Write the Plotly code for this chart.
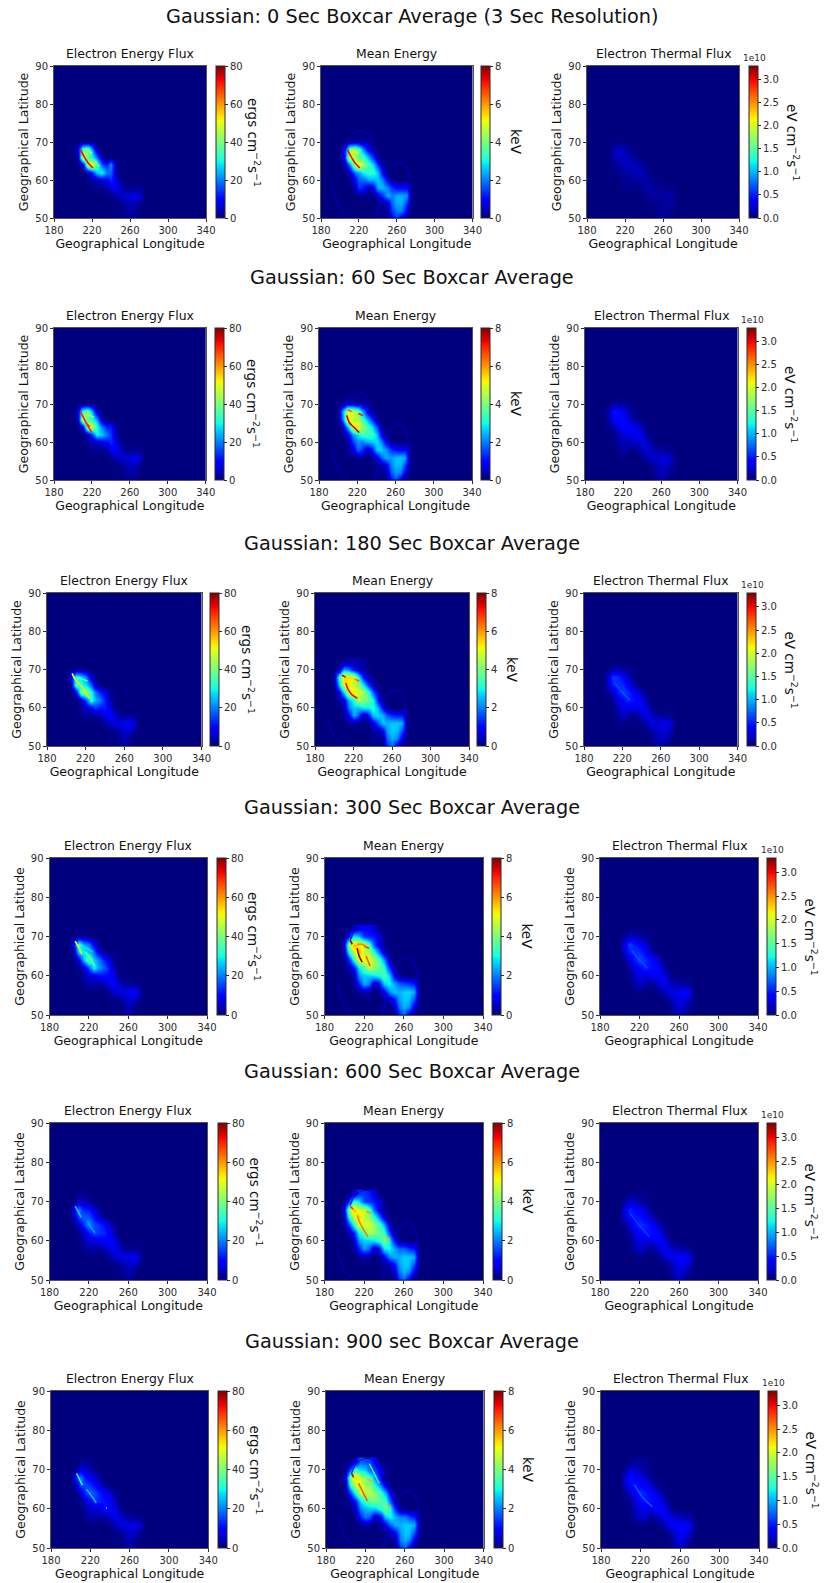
import numpy as np
import plotly.graph_objects as go
from plotly.colors import sample_colorscale

W, H = 825, 1583
LON = [200,205,210,215,220,225,230,235,240,245,250,255,260,265,270,275]
LAT = [72,70,68,66,64,62,60,58,56,54,52,50]
XT = [180,220,260,300,340]
YT = [50,60,70,80,90]
ROW_TITLES = ["Gaussian: 0 Sec Boxcar Average (3 Sec Resolution)","Gaussian: 60 Sec Boxcar Average",
              "Gaussian: 180 Sec Boxcar Average","Gaussian: 300 Sec Boxcar Average",
              "Gaussian: 600 Sec Boxcar Average","Gaussian: 900 sec Boxcar Average"]
PANEL_TITLES = ["Electron Energy Flux","Mean Energy","Electron Thermal Flux"]

# Electron energy flux, ergs cm-2 s-1
EEF_0 = [[0]*16,[0]*16,
[0,6,38,42,24,3,0,0,0,0,0,0,0,0,0,0],
[0,1,50,36,32,20,2,0,0,0,0,0,0,0,0,0],
[0,0,4,48,55,36,18,12,22,2,0,0,0,0,0,0],
[0,0,0,2,10,26,30,20,18,3,0,0,0,0,0,0],
[0,0,0,1,3,3,8,8,14,6,1,0,0,0,0,0],
[0,0,0,0,1,1,1,2,6,9,4,1,1,1,1,0],
[0,0,0,0,0,0,0,0,1,3,5,6,7,8,6,0],
[0,0,0,0,0,0,0,0,0,0,1,3,4,4,2,0],
[0,0,0,0,0,0,0,0,0,1,0,2,3,2,0,0],
[0,0,0,0,0,0,0,0,0,0,0,1,2,1,0,0]]
EEF_60 = [[0]*16,[0]*16,
[0,5,36,40,26,5,0,0,0,0,0,0,0,0,0,0],
[0,2,50,36,32,24,3,0,0,0,0,0,0,0,0,0],
[0,0,6,48,50,32,20,12,12,2,0,0,0,0,0,0],
[0,0,0,3,12,30,26,20,14,4,0,0,0,0,0,0],
[0,0,0,2,4,4,8,10,14,7,1,0,0,0,0,0],
[0,0,0,0,1,2,1,2,7,10,5,1,1,1,1,0],
[0,0,0,0,0,0,0,0,1,4,6,6,7,9,6,0],
[0,0,0,0,0,0,0,0,0,0,1,3,5,4,2,0],
[0,0,0,0,0,0,0,0,0,1,0,2,3,2,0,0],
[0,0,0,0,0,0,0,0,0,0,0,1,2,1,0,0]]
EEF_180 = [[0]*16,[0,0,1,1,0,0,0,0,0,0,0,0,0,0,0,0],
[0,8,32,28,20,6,1,0,0,0,0,0,0,0,0,0],
[0,2,36,32,28,18,5,0,0,0,0,0,0,0,0,0],
[0,0,6,40,44,32,20,12,8,1,0,0,0,0,0,0],
[0,0,0,4,16,34,24,20,12,3,0,0,0,0,0,0],
[0,0,0,2,5,6,14,10,12,7,1,0,0,0,0,0],
[0,0,0,1,2,2,2,3,8,10,5,2,1,1,1,0],
[0,0,0,0,0,0,0,0,2,5,7,7,8,9,7,0],
[0,0,0,0,0,0,0,0,0,0,1,3,5,5,2,0],
[0,0,0,0,0,0,0,0,0,1,0,2,4,2,0,0],
[0,0,0,0,0,0,0,0,0,0,0,1,3,1,0,0]]
EEF_300 = [[0]*16,[0,0,3,2,1,0,0,0,0,0,0,0,0,0,0,0],
[0,10,36,24,20,9,2,0,0,0,0,0,0,0,0,0],
[0,3,28,30,25,18,6,1,0,0,0,0,0,0,0,0],
[0,0,7,26,38,26,20,13,7,1,0,0,0,0,0,0],
[0,0,1,5,16,30,22,18,12,4,0,0,0,0,0,0],
[0,0,0,3,6,6,10,10,10,7,1,0,0,0,0,0],
[0,0,0,1,3,3,2,3,7,9,6,2,2,1,1,0],
[0,0,0,0,0,0,0,0,2,5,7,7,8,10,7,0],
[0,0,0,0,0,0,0,0,0,0,1,3,6,5,2,0],
[0,0,0,0,0,0,0,0,0,1,0,2,4,2,0,0],
[0,0,0,0,0,0,0,0,0,0,0,1,3,1,0,0]]
EEF_600 = [[0,0,1,1,0,0,0,0,0,0,0,0,0,0,0,0],[0,0,5,4,2,0,0,0,0,0,0,0,0,0,0,0],
[0,8,20,12,12,7,2,0,0,0,0,0,0,0,0,0],
[0,3,16,18,16,11,5,1,0,0,0,0,0,0,0,0],
[0,0,6,14,22,16,14,11,6,1,0,0,0,0,0,0],
[0,0,1,5,11,16,14,13,9,4,0,0,0,0,0,0],
[0,0,0,3,6,6,7,9,10,8,2,0,0,0,0,0],
[0,0,0,1,3,3,2,3,6,8,6,2,2,1,1,0],
[0,0,0,0,0,0,0,0,2,5,7,7,8,9,7,0],
[0,0,0,0,0,0,0,0,0,0,1,3,5,5,2,0],
[0,0,0,0,0,0,0,0,0,1,0,2,4,2,0,0],
[0,0,0,0,0,0,0,0,0,0,0,1,3,1,0,0]]
EEF_900 = [[0,0,1,2,1,0,0,0,0,0,0,0,0,0,0,0],[0,1,7,6,3,1,0,0,0,0,0,0,0,0,0,0],
[0,8,20,11,9,6,2,0,0,0,0,0,0,0,0,0],
[0,3,16,16,13,9,5,1,0,0,0,0,0,0,0,0],
[0,0,5,14,18,16,11,9,5,1,0,0,0,0,0,0],
[0,0,1,5,9,14,12,11,8,4,0,0,0,0,0,0],
[0,0,0,3,5,6,6,12,8,7,2,0,0,0,0,0],
[0,0,0,1,3,3,2,3,5,8,6,3,2,1,1,0],
[0,0,0,0,0,0,0,0,1,4,7,7,7,8,6,0],
[0,0,0,0,0,0,0,0,0,0,1,4,5,5,2,0],
[0,0,0,0,0,0,0,0,0,1,0,3,4,2,0,0],
[0,0,0,0,0,0,0,0,0,0,0,2,3,1,0,0]]

# Mean energy, in 0.1 keV
ME_0 = [[0]*16,[0,0,1,3,3,3,2,0,0,0,0,0,0,0,0,0],
[0,10,42,44,36,20,8,1,0,0,0,0,0,0,0,0],
[0,12,52,44,36,34,24,12,2,0,0,0,0,0,0,0],
[0,3,20,45,55,42,34,26,14,2,0,0,0,0,0,0],
[0,0,5,18,22,30,32,32,26,8,0,0,0,0,0,0],
[0,0,0,8,18,18,24,24,26,20,7,0,0,0,0,0],
[0,0,0,3,14,11,3,9,24,25,20,14,9,9,10,1],
[0,0,0,0,1,0,0,1,6,14,24,20,24,24,22,2],
[0,0,0,0,0,0,0,0,1,2,6,18,24,24,15,1],
[0,0,0,0,0,0,0,0,1,1,2,14,20,20,8,0],
[0,0,0,0,0,0,0,0,0,0,1,9,15,6,0,0]]
ME_60 = [[0]*16,[0,2,6,4,3,3,2,0,0,0,0,0,0,0,0,0],
[0,24,50,48,42,26,10,1,0,0,0,0,0,0,0,0],
[0,20,54,48,44,36,26,14,3,0,0,0,0,0,0,0],
[0,4,26,50,55,44,36,28,16,3,0,0,0,0,0,0],
[0,1,6,22,28,34,34,34,26,10,1,0,0,0,0,0],
[0,0,2,14,22,20,24,26,28,22,8,1,0,0,0,0],
[0,0,1,6,18,14,4,10,26,27,22,14,11,9,10,1],
[0,0,0,0,1,0,0,1,6,16,24,22,25,26,24,2],
[0,0,0,0,0,0,0,0,1,2,7,20,25,24,16,1],
[0,0,0,0,0,0,0,0,1,1,2,16,22,20,8,0],
[0,0,0,0,0,0,0,0,0,0,1,10,16,6,0,0]]
ME_180 = [[0,0,1,3,3,3,2,0,0,0,0,0,0,0,0,0],[0,4,22,18,8,4,2,1,0,0,0,0,0,0,0,0],
[2,32,56,52,48,32,12,2,0,0,0,0,0,0,0,0],
[0,24,50,54,46,42,30,16,4,0,0,0,0,0,0,0],
[0,8,28,50,54,50,44,34,18,4,0,0,0,0,0,0],
[0,2,8,24,32,44,42,38,30,12,1,0,0,0,0,0],
[0,0,3,20,26,24,28,28,32,24,9,1,0,0,0,0],
[0,0,1,10,24,18,4,9,26,28,24,16,13,11,11,1],
[0,0,0,1,2,1,0,1,7,17,26,24,26,26,24,2],
[0,0,0,0,0,0,0,0,1,2,8,22,26,25,16,1],
[0,0,0,0,0,0,0,0,1,1,2,18,24,21,8,0],
[0,0,0,0,0,0,0,0,0,0,1,12,18,7,0,0]]
ME_300 = [[0,0,4,8,10,10,6,0,0,0,0,0,0,0,0,0],[0,12,30,26,14,12,12,8,1,0,0,0,0,0,0,0],
[4,44,58,52,50,36,16,8,1,0,0,0,0,0,0,0],
[2,32,48,58,46,44,32,18,5,0,0,0,0,0,0,0],
[0,12,32,50,52,50,44,36,22,5,0,0,0,0,0,0],
[0,3,10,28,36,46,42,38,32,14,2,0,0,0,0,0],
[0,0,4,22,26,26,28,30,36,28,10,1,0,0,0,0],
[0,0,1,12,24,20,3,8,26,30,24,18,16,14,12,1],
[0,0,0,1,3,1,0,1,8,20,26,24,26,27,24,2],
[0,0,0,0,0,0,0,0,1,3,9,22,26,25,16,1],
[0,0,0,0,0,0,0,0,1,1,3,18,24,21,8,0],
[0,0,0,0,0,0,0,0,0,0,1,12,18,7,0,0]]
ME_600 = [[0,0,5,14,14,12,7,0,0,0,0,0,0,0,0,0],[0,14,34,28,16,14,12,8,1,0,0,0,0,0,0,0],
[6,42,58,48,50,36,18,8,1,0,0,0,0,0,0,0],
[2,32,48,56,46,42,32,20,6,0,0,0,0,0,0,0],
[0,14,32,50,48,50,42,36,24,6,0,0,0,0,0,0],
[0,3,12,30,36,44,42,38,34,16,2,0,0,0,0,0],
[0,0,5,22,26,26,28,32,40,30,12,2,0,0,0,0],
[0,0,1,12,22,18,3,8,28,30,24,18,18,14,12,1],
[0,0,0,1,3,1,0,2,8,20,24,24,26,26,24,2],
[0,0,0,0,0,0,0,0,1,3,9,22,26,25,16,1],
[0,0,0,0,0,0,0,0,1,1,3,19,24,21,8,0],
[0,0,0,0,0,0,0,0,0,0,1,13,18,7,0,0]]
ME_900 = [[0,0,6,18,16,14,9,0,0,0,0,0,0,0,0,0],[0,16,34,28,26,16,14,9,1,0,0,0,0,0,0,0],
[6,42,56,46,40,34,20,9,1,0,0,0,0,0,0,0],
[2,34,46,52,44,40,30,20,6,0,0,0,0,0,0,0],
[0,14,32,46,46,46,40,34,24,7,0,0,0,0,0,0],
[0,3,12,28,34,38,40,36,34,16,3,0,0,0,0,0],
[0,0,5,20,24,26,26,32,40,30,12,2,0,0,0,0],
[0,0,1,12,20,16,3,8,26,30,24,20,20,15,12,1],
[0,0,0,1,3,1,0,2,7,18,24,24,26,26,24,2],
[0,0,0,0,0,0,0,0,1,3,9,22,26,25,16,1],
[0,0,0,0,0,0,0,0,1,1,3,20,24,21,8,0],
[0,0,0,0,0,0,0,0,0,0,1,14,18,7,0,0]]

# Electron thermal flux, in 1e8 eV cm-2 s-1
TF_0 = [[0]*16,[0,0,2,3,1,0,0,0,0,0,0,0,0,0,0,0],
[0,5,20,22,16,5,1,0,0,0,0,0,0,0,0,0],
[0,4,16,20,18,14,6,1,0,0,0,0,0,0,0,0],
[0,1,6,12,18,18,18,14,6,1,0,0,0,0,0,0],
[0,0,2,6,10,14,14,16,14,5,0,0,0,0,0,0],
[0,0,0,4,7,6,10,10,14,10,3,0,0,0,0,0],
[0,0,0,2,5,4,1,3,10,12,8,5,4,3,3,0],
[0,0,0,0,0,0,0,0,3,6,10,9,10,12,10,1],
[0,0,0,0,0,0,0,0,0,1,3,7,9,9,6,0],
[0,0,0,0,0,0,0,0,0,0,1,5,8,7,2,0],
[0,0,0,0,0,0,0,0,0,0,0,3,6,2,0,0]]
TF_60 = [[0]*16,[0,1,8,10,8,6,3,0,0,0,0,0,0,0,0,0],
[0,14,48,42,34,14,4,0,0,0,0,0,0,0,0,0],
[0,12,38,44,38,30,14,3,0,0,0,0,0,0,0,0],
[0,3,14,30,38,36,34,26,12,2,0,0,0,0,0,0],
[0,1,4,14,22,30,30,34,26,8,0,0,0,0,0,0],
[0,0,1,10,18,14,22,22,30,20,5,0,0,0,0,0],
[0,0,0,5,12,8,2,6,20,26,18,10,8,6,5,0],
[0,0,0,0,1,0,0,0,4,12,24,22,24,28,22,1],
[0,0,0,0,0,0,0,0,0,1,6,16,22,22,12,0],
[0,0,0,0,0,0,0,0,0,0,2,12,18,14,4,0],
[0,0,0,0,0,0,0,0,0,0,0,7,14,4,0,0]]
TF_180 = [[0]*16,[0,3,12,14,8,6,3,0,0,0,0,0,0,0,0,0],
[0,24,62,54,42,24,6,0,0,0,0,0,0,0,0,0],
[0,18,50,56,54,40,20,4,0,0,0,0,0,0,0,0],
[0,5,22,48,64,56,44,32,14,2,0,0,0,0,0,0],
[0,1,6,26,36,54,46,42,30,10,0,0,0,0,0,0],
[0,0,2,18,28,24,32,28,34,26,6,0,0,0,0,0],
[0,0,1,10,22,14,3,8,26,32,22,12,8,6,5,0],
[0,0,0,1,1,0,0,0,5,14,30,26,28,34,26,1],
[0,0,0,0,0,0,0,0,0,1,7,18,26,24,14,0],
[0,0,0,0,0,0,0,0,0,0,2,14,20,16,5,0],
[0,0,0,0,0,0,0,0,0,0,0,8,16,5,0,0]]
TF_300 = [[0,0,1,2,2,2,1,0,0,0,0,0,0,0,0,0],[0,6,24,18,12,6,3,0,0,0,0,0,0,0,0,0],
[0,30,64,50,44,26,8,1,0,0,0,0,0,0,0,0],
[0,22,50,56,54,42,24,6,0,0,0,0,0,0,0,0],
[0,6,24,48,66,56,46,36,16,3,0,0,0,0,0,0],
[0,1,8,28,38,54,46,44,34,12,1,0,0,0,0,0],
[0,0,3,20,28,24,30,32,36,28,8,1,0,0,0,0],
[0,0,1,12,22,16,4,10,26,34,24,14,12,8,6,0],
[0,0,0,1,2,1,0,0,6,16,30,30,32,38,30,1],
[0,0,0,0,0,0,0,0,0,1,8,22,30,28,16,0],
[0,0,0,0,0,0,0,0,0,0,2,16,24,18,6,0],
[0,0,0,0,0,0,0,0,0,0,0,10,18,5,0,0]]
TF_600 = [[0,0,2,4,4,3,1,0,0,0,0,0,0,0,0,0],[0,8,24,20,12,6,3,0,0,0,0,0,0,0,0,0],
[0,26,54,42,36,24,8,1,0,0,0,0,0,0,0,0],
[0,20,42,50,46,36,22,6,1,0,0,0,0,0,0,0],
[0,6,22,42,56,52,44,32,14,3,0,0,0,0,0,0],
[0,1,8,26,36,48,46,44,34,12,1,0,0,0,0,0],
[0,0,3,20,28,24,30,32,36,28,9,1,0,0,0,0],
[0,0,1,12,22,16,4,10,26,34,26,16,14,10,6,0],
[0,0,0,1,2,1,0,0,6,18,34,34,36,40,32,1],
[0,0,0,0,0,0,0,0,0,1,8,24,32,30,16,0],
[0,0,0,0,0,0,0,0,0,0,2,18,26,20,6,0],
[0,0,0,0,0,0,0,0,0,0,0,12,20,6,0,0]]
TF_900 = [[0,0,3,8,8,5,2,0,0,0,0,0,0,0,0,0],[0,10,28,24,16,8,4,0,0,0,0,0,0,0,0,0],
[0,28,46,36,30,22,8,1,0,0,0,0,0,0,0,0],
[0,22,42,50,38,34,22,7,1,0,0,0,0,0,0,0],
[0,8,22,38,56,48,42,30,14,3,0,0,0,0,0,0],
[0,1,8,24,38,50,44,42,32,12,2,0,0,0,0,0],
[0,0,3,20,30,28,30,36,38,30,10,2,0,0,0,0],
[0,0,1,14,26,20,5,12,26,36,30,18,18,12,8,0],
[0,0,0,1,2,1,0,0,6,18,36,38,38,42,34,1],
[0,0,0,0,0,0,0,0,0,1,8,26,36,30,16,0],
[0,0,0,0,0,0,0,0,0,0,2,20,30,20,6,0],
[0,0,0,0,0,0,0,0,0,0,0,14,24,6,0,0]]

# narrow bright streaks: (lons, lats, value in the same unit as the panel table)
STREAK_EEF_0 = [([208,212,216,221],[68,66,64.5,63.2],72),([212,216,220],[68,67.7,67],42),([223,227],[65,63.5],38)]
STREAK_EEF_60 = [([208,211,215,220],[68,66.5,64.5,62.5],70),([214,218,222],[67.5,67,66.5],45),([214,218],[65,64],68)]
STREAK_EEF_180 = [([206,209,214],[69,67.5,66],50),([215,220,224],[66,64,62.5],50),([210,216,222],[68,67.5,67],35)]
STREAK_EEF_300 = [([206,209,213],[68.8,67.5,65.5],50),([217,222,226],[66,64,62.5],38),([212,218,224],[67.5,67,66],28)]
STREAK_EEF_600 = [([206,209,212],[68.8,67.5,66],26),([218,222,226],[65,63.5,62],22)]
STREAK_EEF_900 = [([206,209,212],[69,67.5,66],30),([216,222,226],[65,63,61.5],25),([236,237],[60.2,60.2],35)]
STREAK_ME_0 = [([208,212,216,221],[68,66,64.5,63.2],72),([212,216,220],[68,67.5,67],52)]
STREAK_ME_60 = [([209,212,216,222],[67,65,64,62.5],75),([210,214],[68.5,68],65),([221,226],[67.5,67],70)]
STREAK_ME_180 = [([208,212],[68.5,68],75),([212,214,218,224],[66.5,65,63.5,62.5],72),([220,226],[67.5,67],65),([214,220,226],[68,67.5,66],55)]
STREAK_ME_300 = [([206,208],[69,68],78),([213,215,218],[67,65,63.5],78),([220,225],[67.5,67],68),([222,226],[65,62.5],65),([213,218,222],[68,68,67.5],62)]
STREAK_ME_600 = [([206,209],[68.8,68],68),([213,215,219,224],[66.5,65,63,61],62),([222,227],[67.5,67],60),([242,246],[60.8,60.4],58)]
STREAK_ME_900 = [([206,208],[69,68],75),([213,216,222],[66.5,65,62],65),([222,228],[67.5,67],58),([243,246],[60.8,60.5],60),([224,234],[71.5,66.5],30)]
STREAK_TF_180 = [([212,220,228],[66.5,64,62],68)]
STREAK_TF_300 = [([212,220,228],[66.5,64,62],68)]
STREAK_TF_600 = [([210,220,230],[67,64,61],62)]
STREAK_TF_900 = [([214,222,232],[66,63,60.5],72)]

# faint ring traces visible in the mean-energy panels
ARC1_LON = [206,209,214,221,228,232,236,240]
ARC1_LAT = [69,70.8,72.2,72.8,72.4,71,69,66]
ARC2_LON = [193,196,200,206,210]
ARC2_LAT = [58,55,52.5,51,50]
ARC3_LON = [252,258,266,272,275]
ARC3_LAT = [62.5,64,64.5,62,58]
ARC4_LON = [238,241,244]
ARC4_LAT = [50,53,55.5]

TABLES = [[EEF_0,ME_0,TF_0],[EEF_60,ME_60,TF_60],[EEF_180,ME_180,TF_180],
          [EEF_300,ME_300,TF_300],[EEF_600,ME_600,TF_600],[EEF_900,ME_900,TF_900]]
STREAKS = [[STREAK_EEF_0,STREAK_ME_0,[]],[STREAK_EEF_60,STREAK_ME_60,[]],[STREAK_EEF_180,STREAK_ME_180,STREAK_TF_180],
           [STREAK_EEF_300,STREAK_ME_300,STREAK_TF_300],[STREAK_EEF_600,STREAK_ME_600,STREAK_TF_600],
           [STREAK_EEF_900,STREAK_ME_900,STREAK_TF_900]]
UNITS = [1, 0.1, 0.01]
ZMAX = [80, 8, 3.3]
CB_TICKS = [[0,20,40,60,80],[0,2,4,6,8],[0,.5,1,1.5,2,2.5,3]]
CB_TEXT = [["0","20","40","60","80"],["0","2","4","6","8"],["0.0","0.5","1.0","1.5","2.0","2.5","3.0"]]
CB_TITLE = ["ergs cm<sup>−2</sup>s<sup>−1</sup>","keV","eV cm<sup>−2</sup>s<sup>−1</sup>"]
CB_TITLE_DX = [38,35,44]

JET = [[0,"#00007f"],[.11,"#0000ff"],[.125,"#0000ff"],[.34,"#00dbff"],[.35,"#00e5f7"],[.375,"#14ffe0"],
       [.64,"#eeff08"],[.65,"#f7f500"],[.66,"#ffec00"],[.89,"#ff1300"],[.91,"#f40000"],[1,"#7f0000"]]

# pixel layout per row: (top, bottom, [(x0, x1, cb_left) per panel])
ROWS = [(66,218,[(54,206,216),(321,472.5,481),(587,739,749)]),
        (328,480,[(54,205.7,215),(319,472,481),(585,737.5,747)]),
        (593,746,[(47,201.5,210.5),(315,469,477.5),(584,737.5,747)]),
        (858,1015,[(49.5,207,216.5),(324.5,483,492),(600,758,767)]),
        (1123,1280,[(49.5,207,218),(324.5,483,493),(600,758,767)]),
        (1391,1548,[(51,208.3,218),(326,483.5,493.5),(601,759,768)])]
TITLE_Y = [16,278,543,807,1071,1341]
INK = "#2b2b2b"
FONT = "DejaVu Sans"

fig = go.Figure()
ann = []
n = 0
for r,(top,bot,panels) in enumerate(ROWS):
    ann.append(dict(text=ROW_TITLES[r],x=412/W,y=1-TITLE_Y[r]/H,xref="paper",yref="paper",showarrow=False,
                    font=dict(family=FONT,size=19.3,color="#111"),xanchor="center",yanchor="middle"))
    for c,(x0,x1,cb) in enumerate(panels):
        n += 1
        xa,ya = f"x{n}",f"y{n}"
        z = (np.array(TABLES[r][c],dtype=float)*UNITS[c]).tolist()
        fig.add_trace(go.Heatmap(x=LON,y=LAT,z=z,xaxis=xa,yaxis=ya,zmin=0,zmax=ZMAX[c],zsmooth="best",
            colorscale=JET,hoverinfo="skip",
            colorbar=dict(x=cb/W,xanchor="left",xpad=0,ypad=0,y=1-(top+bot)/2/H,yanchor="middle",
                len=(bot-top)/H,lenmode="fraction",thickness=8.5,thicknessmode="pixels",
                outlinecolor=INK,outlinewidth=1,ticks="outside",ticklen=3,tickwidth=1,tickcolor=INK,
                tickvals=CB_TICKS[c],ticktext=CB_TEXT[c],tickfont=dict(family=FONT,size=10,color=INK))))
        if c == 1:
            for ax,ay in ((ARC1_LON,ARC1_LAT),(ARC2_LON,ARC2_LAT),(ARC3_LON,ARC3_LAT),(ARC4_LON,ARC4_LAT)):
                fig.add_trace(go.Scatter(x=ax,y=ay,xaxis=xa,yaxis=ya,mode="lines",showlegend=False,hoverinfo="skip",
                    line=dict(color="#0000c8",width=1,shape="spline")))
        for sx,sy,val in STREAKS[r][c]:
            col = sample_colorscale(JET,[val*UNITS[c]/ZMAX[c]])[0]
            fig.add_trace(go.Scatter(x=sx,y=sy,xaxis=xa,yaxis=ya,mode="lines",showlegend=False,hoverinfo="skip",
                line=dict(color=col,width=1.3 if c==2 else 1.6,shape="spline")))
        common = dict(ticks="outside",ticklen=3,tickwidth=1,tickcolor=INK,showline=True,linecolor="#55524a",
                      linewidth=1,mirror=True,showgrid=False,zeroline=False,
                      tickfont=dict(family=FONT,size=10,color=INK),automargin=False)
        fig.update_layout(**{
            ("xaxis" if n==1 else f"xaxis{n}"):dict(domain=[x0/W,x1/W],range=[180,340],tickvals=XT,anchor=ya,
                title=dict(text="Geographical Longitude",standoff=3,font=dict(family=FONT,size=12.5,color="#111")),**common),
            ("yaxis" if n==1 else f"yaxis{n}"):dict(domain=[1-bot/H,1-top/H],range=[50,90],tickvals=YT,anchor=xa,
                title=dict(text="Geographical Latitude",standoff=3,font=dict(family=FONT,size=12.5,color="#111")),**common)})
        ann.append(dict(text=PANEL_TITLES[c],x=(x0+x1)/2/W,y=1-(top-3)/H,xref="paper",yref="paper",showarrow=False,
                        xanchor="center",yanchor="bottom",font=dict(family=FONT,size=12.4,color="#111")))
        ann.append(dict(text=CB_TITLE[c],x=(cb+CB_TITLE_DX[c])/W,y=1-(top+bot)/2/H,xref="paper",yref="paper",
                        showarrow=False,textangle=90,xanchor="center",yanchor="middle",
                        font=dict(family=FONT,size=13.5,color="#111")))
        if c == 2:
            ann.append(dict(text="1e10",x=(cb+5)/W,y=1-(top-1)/H,xref="paper",yref="paper",showarrow=False,
                            xanchor="center",yanchor="bottom",font=dict(family=FONT,size=9,color=INK)))

fig.update_layout(width=W,height=H,margin=dict(l=0,r=0,t=0,b=0,autoexpand=False),paper_bgcolor="white",plot_bgcolor="#00007f",
                  showlegend=False,annotations=ann,font=dict(family=FONT))
fig.write_html("out.html",config={"displayModeBar":False},post_script="document.body.style.margin='0';")
